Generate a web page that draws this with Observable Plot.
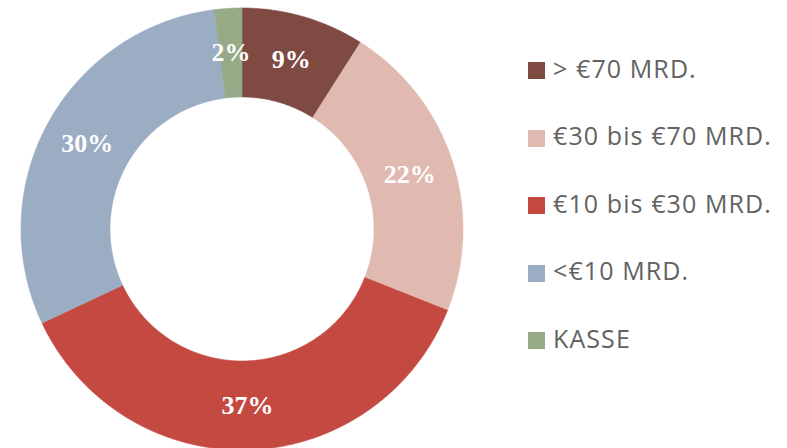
<!DOCTYPE html>
<html>
<head>
<meta charset="utf-8">
<script src="https://cdn.jsdelivr.net/npm/d3@7"></script>
<script src="https://cdn.jsdelivr.net/npm/@observablehq/plot@0.6"></script>
<style>
  html, body { margin: 0; padding: 0; background: #fff; }
  #wrap { position: relative; width: 787px; height: 448px; overflow: hidden; }
  #wrap svg { position: absolute; left: 0; top: 0; }
  #legend { position: absolute; left: 528px; top: 36.75px; font-family: "Open Sans", sans-serif; font-size: 25px; letter-spacing: 1.1px; color: #626262; }
  .row { height: 67.5px; display: flex; align-items: center; white-space: nowrap; }
  .sw { width: 17px; height: 17px; margin-right: 8px; flex: none; }
  .lt { position: relative; top: -3px; }
</style>
</head>
<body>
<div id="wrap"><div id="legend"></div></div>
<script>
const categories = ["> €70 MRD.", "€30 bis €70 MRD.", "€10 bis €30 MRD.", "<€10 MRD.", "KASSE"];
const values = [9, 22, 37, 30, 2];
const colors = ["#7e4a41", "#e0bab1", "#c44a41", "#9badc2", "#97aa87"];

const W = 787, H = 448;
const cx = 241.5, cy = 228.5, R = 221;
const inner = 132 / 221;
const total = d3.sum(values);

// build slices
let acc = 0;
const slices = categories.map((c, i) => {
  const a0 = acc / total * 2 * Math.PI;
  acc += values[i];
  const a1 = acc / total * 2 * Math.PI;
  return {cat: c, value: values[i], a0, a1, color: colors[i]};
});

function ring(s) {
  const pts = [];
  const n = Math.max(8, Math.ceil((s.a1 - s.a0) / 0.01));
  for (let k = 0; k <= n; k++) {
    const a = s.a0 + (s.a1 - s.a0) * k / n;
    pts.push({x: Math.sin(a), y: Math.cos(a)});
  }
  for (let k = n; k >= 0; k--) {
    const a = s.a0 + (s.a1 - s.a0) * k / n;
    pts.push({x: inner * Math.sin(a), y: inner * Math.cos(a)});
  }
  pts.push(pts[0]);
  return pts;
}

const labelR = (1 + inner) / 2;
const labels = slices.map(s => {
  const m = (s.a0 + s.a1) / 2;
  return {x: labelR * Math.sin(m), y: labelR * Math.cos(m), text: s.value + "%"};
});

const plot = Plot.plot({
  width: W, height: H,
  margin: 0,
  x: {domain: [-cx / R, (W - cx) / R], axis: null},
  y: {domain: [-(H - cy) / R, cy / R], axis: null},
  marks: [
    ...slices.map(s => Plot.line(ring(s), {x: "x", y: "y", fill: s.color, stroke: s.color, strokeWidth: 0.6, curve: "linear"})),
    Plot.text(labels, {x: "x", y: "y", text: "text", fill: "white", fontSize: 26, fontWeight: "bold", fontFamily: "Liberation Serif, serif"})
  ]
});
document.getElementById("wrap").appendChild(plot);

const leg = document.getElementById("legend");
categories.forEach((c, i) => {
  const row = document.createElement("div");
  row.className = "row";
  const sw = document.createElement("span");
  sw.className = "sw";
  sw.style.background = colors[i];
  const t = document.createElement("span");
  t.className = "lt";
  t.textContent = c;
  row.appendChild(sw); row.appendChild(t);
  leg.appendChild(row);
});
</script>
</body>
</html>
